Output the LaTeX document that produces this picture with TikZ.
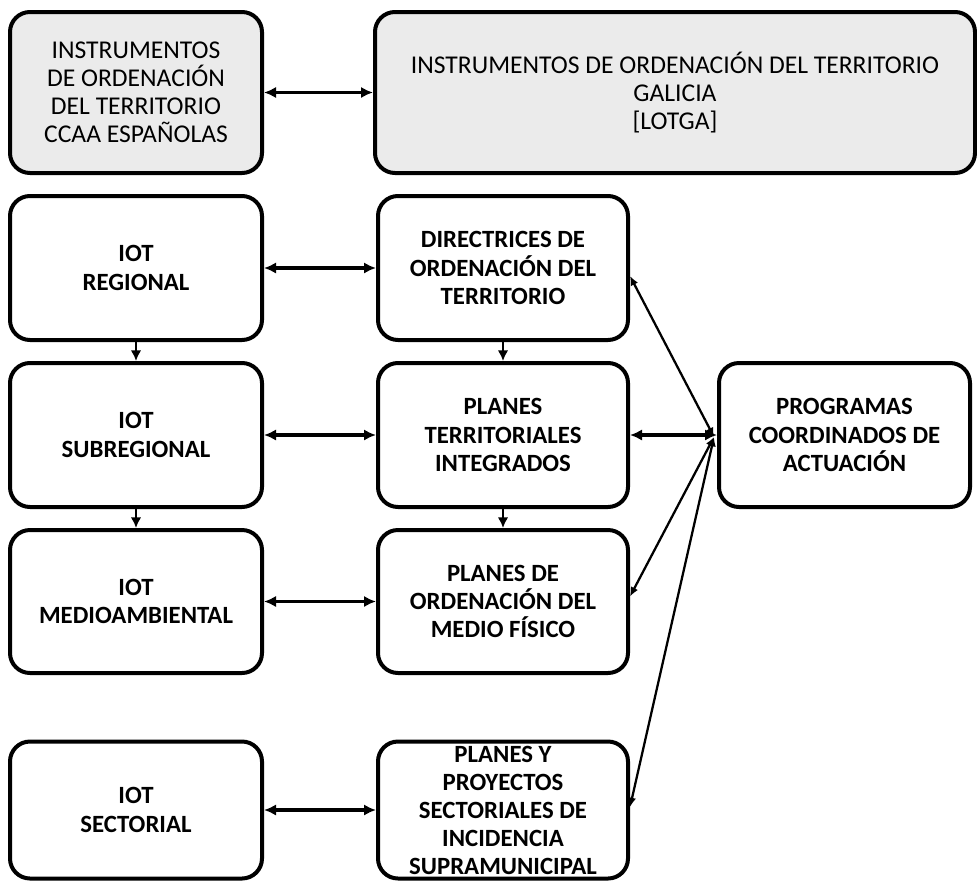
\documentclass[tikz,border=0pt]{standalone}
\usepackage{fontspec}
\setmainfont{Carlito}
\usetikzlibrary{arrows.meta,calc}
\definecolor{boxgray}{HTML}{EBEBEB}
\begin{document}
\begin{tikzpicture}[x=0.75pt,y=-0.75pt,
  base/.style={draw=black, line width=3pt, rounded corners=15pt, align=center, inner sep=0pt, text=black},
  topbox/.style={base, fill=boxgray, font=\fontsize{19.2}{21}\selectfont},
  box/.style={base, fill=white, font=\bfseries\fontsize{18.6}{21.25}\selectfont},
  boxtext/.style={align=center, inner sep=0pt, text=black, font=\bfseries\fontsize{18.6}{21}\selectfont},
  harrow/.style={{Latex[length=9pt,width=8.5pt]}-{Latex[length=9pt,width=8.5pt]}, line width=2.6pt},
  varrow/.style={-{Latex[length=8pt,width=8pt]}, line width=2pt},
  darrow/.style={{Latex[length=7pt,width=6pt]}-{Latex[length=7pt,width=6pt]}, line width=1.7pt}]
\useasboundingbox (0,0) rectangle (977,882);

\node[topbox, minimum width=189pt, minimum height=120.75pt] (ccaa) at (136,92.5) {INSTRUMENTOS\\DE ORDENACIÓN\\DEL TERRITORIO\\CCAA ESPAÑOLAS};
\node[topbox, minimum width=450pt, minimum height=120.75pt] (gal) at (675,92.5) {INSTRUMENTOS DE ORDENACIÓN DEL TERRITORIO\\GALICIA\\{[LOTGA]}};

\node[box, minimum width=189pt, minimum height=108pt] (reg) at (136,268) {IOT\\REGIONAL};
\node[box, minimum width=189pt, minimum height=108pt] (sub) at (136,435) {IOT\\SUBREGIONAL};
\node[box, minimum width=189pt, minimum height=107.25pt] (med) at (136,601.5) {IOT\\MEDIOAMBIENTAL};
\node[box, minimum width=189pt, minimum height=102.75pt] (sec) at (136,810) {IOT\\SECTORIAL};

\node[box, minimum width=187.5pt, minimum height=108pt] (dir) at (503,268) {DIRECTRICES DE\\ORDENACIÓN DEL\\TERRITORIO};
\node[box, minimum width=187.5pt, minimum height=108pt] (pti) at (503,435) {PLANES\\TERRITORIALES\\INTEGRADOS};
\node[box, minimum width=187.5pt, minimum height=107.25pt] (pom) at (503,601.5) {PLANES DE\\ORDENACIÓN DEL\\MEDIO FÍSICO};
\node[box, minimum width=187.5pt, minimum height=102.75pt] (pps) at (503,810) {};
\node[boxtext] (ppst) at (503,810.5) {PLANES Y\\PROYECTOS\\SECTORIALES DE\\INCIDENCIA\\SUPRAMUNICIPAL};

\node[box, minimum width=188.25pt, minimum height=108pt] (prog) at (844.5,435) {PROGRAMAS\\COORDINADOS DE\\ACTUACIÓN};

\draw[harrow] (ccaa) -- (gal);
\draw[harrow] (reg) -- (dir);
\draw[harrow] (sub) -- (pti);
\draw[harrow] (med) -- (pom);
\draw[harrow] (sec) -- (pps);
\draw[harrow] (pti) -- (prog);

\draw[varrow] (reg) -- (sub);
\draw[varrow] (sub) -- (med);
\draw[varrow] (dir) -- (pti);
\draw[varrow] (pti) -- (pom);

\draw[darrow] ($(prog.west)+(-3,2)$) -- ($(dir.east)+(0,8)$);
\draw[darrow] ($(prog.west)+(-3,2)$) -- ($(pom.east)+(0,-5)$);
\draw[darrow] ($(prog.west)+(-3,2)$) -- ($(pps.east)+(0,-3)$);
\end{tikzpicture}
\end{document}
